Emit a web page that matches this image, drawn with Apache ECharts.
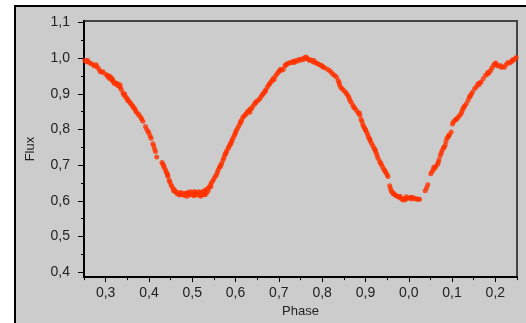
<!DOCTYPE html>
<html>
<head>
<meta charset="utf-8">
<script src="https://cdn.jsdelivr.net/npm/echarts@6/dist/echarts.min.js"></script>
<style>
  html, body { margin: 0; padding: 0; background: #fff; }
  #chart { width: 526px; height: 323px; }
</style>
</head>
<body>
<div id="chart"></div>
<script>
// phase / flux pairs (phase > 1 is labelled phase - 1)
const phase = [
  0.252, 0.256, 0.258, 0.262, 0.270, 0.274, 0.278, 0.280, 0.287, 0.291, 0.294, 0.300, 0.304, 0.306, 0.308,
  0.310, 0.313, 0.315, 0.318, 0.322, 0.325, 0.327, 0.330, 0.333, 0.336, 0.340, 0.342, 0.345, 0.348, 0.350,
  0.353, 0.356, 0.358, 0.363, 0.367, 0.369, 0.371, 0.377, 0.381, 0.383, 0.386, 0.395, 0.398, 0.400, 0.403,
  0.409, 0.411, 0.413, 0.415, 0.418, 0.430, 0.432, 0.435, 0.438, 0.440, 0.443, 0.444, 0.447, 0.448, 0.451,
  0.453, 0.456, 0.459, 0.461, 0.463, 0.466, 0.469, 0.471, 0.474, 0.476, 0.478, 0.480, 0.483, 0.485, 0.487,
  0.490, 0.492, 0.494, 0.496, 0.498, 0.500, 0.502, 0.504, 0.507, 0.509, 0.511, 0.513, 0.515, 0.517, 0.519,
  0.521, 0.523, 0.525, 0.527, 0.529, 0.531, 0.533, 0.535, 0.537, 0.539, 0.541, 0.544, 0.547, 0.550, 0.553,
  0.556, 0.558, 0.560, 0.563, 0.566, 0.568, 0.571, 0.573, 0.575, 0.578, 0.580, 0.583, 0.585, 0.587, 0.590,
  0.592, 0.594, 0.597, 0.600, 0.602, 0.605, 0.608, 0.611, 0.614, 0.617, 0.620, 0.623, 0.625, 0.628, 0.631,
  0.634, 0.637, 0.640, 0.644, 0.648, 0.652, 0.656, 0.659, 0.662, 0.664, 0.667, 0.670, 0.674, 0.677, 0.679,
  0.682, 0.685, 0.687, 0.692, 0.696, 0.699, 0.702, 0.706, 0.710, 0.714, 0.718, 0.721, 0.725, 0.729, 0.733,
  0.737, 0.741, 0.744, 0.748, 0.752, 0.756, 0.760, 0.763, 0.766, 0.769, 0.771, 0.775, 0.779, 0.783, 0.787,
  0.790, 0.794, 0.798, 0.802, 0.806, 0.812, 0.817, 0.821, 0.825, 0.829, 0.833, 0.837, 0.840, 0.843, 0.846,
  0.850, 0.854, 0.857, 0.860, 0.864, 0.867, 0.871, 0.875, 0.879, 0.883, 0.887, 0.890, 0.892, 0.894, 0.896,
  0.898, 0.901, 0.904, 0.906, 0.908, 0.911, 0.914, 0.917, 0.920, 0.923, 0.925, 0.927, 0.929, 0.933, 0.937,
  0.940, 0.943, 0.947, 0.950, 0.952, 0.956, 0.958, 0.960, 0.963, 0.966, 0.969, 0.971, 0.975, 0.978, 0.982,
  0.985, 0.987, 0.990, 0.994, 0.997, 1.000, 1.004, 1.007, 1.011, 1.015, 1.019, 1.022, 1.025, 1.038, 1.041,
  1.044, 1.051, 1.054, 1.057, 1.060, 1.063, 1.067, 1.070, 1.073, 1.075, 1.077, 1.080, 1.084, 1.086, 1.088,
  1.091, 1.094, 1.098, 1.101, 1.103, 1.107, 1.111, 1.114, 1.118, 1.121, 1.123, 1.125, 1.129, 1.133, 1.137,
  1.140, 1.144, 1.147, 1.152, 1.156, 1.160, 1.164, 1.167, 1.172, 1.177, 1.181, 1.185, 1.189, 1.192, 1.196,
  1.199, 1.203, 1.207, 1.211, 1.216, 1.221, 1.225, 1.229, 1.233, 1.237, 1.241, 1.245, 1.248,
  0.266, 0.284, 0.311, 0.316, 0.320, 0.328, 0.334, 0.344, 0.351, 0.361, 0.365, 0.375, 0.392, 0.405, 0.434,
  0.442, 0.457, 0.472, 0.488, 0.505, 0.518, 0.530, 0.543, 0.565, 0.577, 0.589, 0.599, 0.612, 0.633, 0.646,
  0.669, 0.689, 0.704, 0.716, 0.735, 0.758, 0.781, 0.800, 0.839, 0.862, 0.873, 0.886, 0.900, 0.910, 0.922,
  0.935, 0.945, 0.964, 0.980, 0.992, 1.009, 1.058, 1.068, 1.082, 1.092, 1.109, 1.127, 1.142, 1.162, 1.183,
  1.201, 1.214, 1.239
];
const flux = [
  0.993, 0.990, 0.994, 0.988, 0.982, 0.978, 0.981, 0.976, 0.963, 0.960, 0.962, 0.955, 0.951, 0.946, 0.950,
  0.942, 0.944, 0.938, 0.934, 0.931, 0.927, 0.929, 0.922, 0.925, 0.912, 0.902, 0.897, 0.893, 0.889, 0.885,
  0.880, 0.876, 0.872, 0.864, 0.858, 0.853, 0.848, 0.840, 0.834, 0.829, 0.823, 0.800, 0.794, 0.789, 0.781,
  0.760, 0.754, 0.745, 0.738, 0.723, 0.707, 0.703, 0.694, 0.687, 0.681, 0.673, 0.668, 0.657, 0.653, 0.645,
  0.640, 0.634, 0.630, 0.626, 0.623, 0.619, 0.621, 0.616, 0.618, 0.622, 0.617, 0.620, 0.615, 0.621, 0.618,
  0.624, 0.620, 0.616, 0.625, 0.621, 0.617, 0.622, 0.614, 0.619, 0.623, 0.616, 0.620, 0.625, 0.618, 0.613,
  0.621, 0.616, 0.627, 0.619, 0.624, 0.630, 0.622, 0.634, 0.628, 0.637, 0.643, 0.650, 0.655, 0.662, 0.668,
  0.673, 0.680, 0.687, 0.694, 0.700, 0.705, 0.714, 0.720, 0.728, 0.735, 0.740, 0.747, 0.752, 0.757, 0.764,
  0.770, 0.775, 0.783, 0.792, 0.798, 0.804, 0.811, 0.818, 0.826, 0.834, 0.838, 0.842, 0.845, 0.850, 0.853,
  0.857, 0.859, 0.865, 0.872, 0.878, 0.881, 0.886, 0.892, 0.897, 0.901, 0.905, 0.911, 0.920, 0.925, 0.929,
  0.934, 0.938, 0.943, 0.950, 0.956, 0.961, 0.965, 0.966, 0.968, 0.978, 0.983, 0.985, 0.987, 0.988, 0.991,
  0.990, 0.994, 0.992, 0.997, 0.995, 0.999, 1.002, 1.003, 0.999, 0.996, 0.993, 0.995, 0.990, 0.988, 0.986,
  0.984, 0.981, 0.979, 0.975, 0.973, 0.969, 0.965, 0.960, 0.955, 0.951, 0.947, 0.937, 0.925, 0.918, 0.914,
  0.909, 0.904, 0.899, 0.894, 0.882, 0.876, 0.868, 0.860, 0.854, 0.847, 0.840, 0.828, 0.822, 0.813, 0.808,
  0.803, 0.796, 0.789, 0.782, 0.776, 0.768, 0.761, 0.754, 0.747, 0.740, 0.733, 0.726, 0.719, 0.710, 0.701,
  0.694, 0.687, 0.679, 0.673, 0.668, 0.642, 0.634, 0.627, 0.623, 0.619, 0.616, 0.614, 0.612, 0.610, 0.607,
  0.604, 0.602, 0.606, 0.611, 0.608, 0.607, 0.610, 0.605, 0.608, 0.606, 0.605, 0.604, 0.604, 0.628, 0.636,
  0.645, 0.676, 0.682, 0.688, 0.692, 0.697, 0.703, 0.715, 0.727, 0.734, 0.741, 0.748, 0.756, 0.766, 0.775,
  0.779, 0.785, 0.793, 0.815, 0.821, 0.826, 0.830, 0.834, 0.840, 0.845, 0.852, 0.858, 0.866, 0.872, 0.882,
  0.890, 0.898, 0.904, 0.914, 0.920, 0.928, 0.930, 0.933, 0.942, 0.951, 0.955, 0.958, 0.965, 0.972, 0.980,
  0.984, 0.980, 0.978, 0.979, 0.976, 0.974, 0.982, 0.988, 0.986, 0.990, 0.993, 0.998, 1.002,
  0.985, 0.970, 0.947, 0.941, 0.929, 0.924, 0.918, 0.899, 0.882, 0.868, 0.861, 0.844, 0.808, 0.775, 0.698,
  0.676, 0.628, 0.623, 0.613, 0.626, 0.623, 0.617, 0.640, 0.696, 0.731, 0.760, 0.787, 0.822, 0.848, 0.874,
  0.908, 0.940, 0.969, 0.981, 0.988, 0.997, 0.993, 0.978, 0.932, 0.889, 0.862, 0.846, 0.800, 0.773, 0.743,
  0.706, 0.684, 0.620, 0.613, 0.603, 0.609, 0.694, 0.708, 0.751, 0.782, 0.828, 0.862, 0.894, 0.925, 0.960,
  0.986, 0.974, 0.995
];

const xMajor = [0.3, 0.4, 0.5, 0.6, 0.7, 0.8, 0.9, 1.0, 1.1, 1.2];
const xMinor = [0.25, 0.35, 0.45, 0.55, 0.65, 0.75, 0.85, 0.95, 1.05, 1.15, 1.25];
const yMajor = [0.4, 0.5, 0.6, 0.7, 0.8, 0.9, 1.0, 1.1];
const yMinor = [0.45, 0.55, 0.65, 0.75, 0.85, 0.95, 1.05];

const chart = echarts.init(document.getElementById('chart'));

const labelFont = { fontFamily: 'Liberation Sans, Arial, sans-serif', fontSize: 14, color: '#222' };

const fmt = v => {
  let p = v >= 0.999 ? v - 1 : v;
  return p.toFixed(1).replace('.', ',');
};

const option = {
  backgroundColor: '#cccccc',
  animation: false,
  graphic: [
    { type: 'rect', shape: { x: 0, y: 0, width: 526, height: 5 }, style: { fill: '#fff' } },
    { type: 'rect', shape: { x: 0, y: 0, width: 14, height: 323 }, style: { fill: '#fff' } },
    { type: 'rect', shape: { x: 14, y: 5, width: 512, height: 2 }, style: { fill: '#000' } },
    { type: 'rect', shape: { x: 14, y: 5, width: 2, height: 318 }, style: { fill: '#000' } }
  ],
  grid: {
    left: 84, top: 21, right: 9, bottom: 45,
    show: true, borderColor: '#454545', borderWidth: 2, backgroundColor: 'transparent'
  },
  xAxis: [
    {
      type: 'value', min: 0.25, max: 1.25,
      name: 'Phase', nameLocation: 'middle', nameGap: 26,
      nameTextStyle: { fontFamily: 'Liberation Sans, Arial, sans-serif', fontSize: 13, color: '#222' },
      axisLine: { show: true, onZero: false, lineStyle: { color: '#000', width: 2 } },
      axisTick: { show: true, length: 5, customValues: xMajor, lineStyle: { color: '#000', width: 1 } },
      axisLabel: { ...labelFont, margin: 9, customValues: xMajor, formatter: fmt },
      splitLine: { show: false }
    },
    {
      type: 'value', min: 0.25, max: 1.25, position: 'bottom',
      axisLine: { show: false },
      axisTick: { show: true, length: 3, customValues: xMinor, lineStyle: { color: '#000', width: 1 } },
      axisLabel: { show: false },
      splitLine: { show: false }
    }
  ],
  yAxis: [
    {
      type: 'value', min: 0.386, max: 1.104,
      name: 'Flux', nameLocation: 'middle', nameGap: 47, nameRotate: 90,
      nameTextStyle: { fontFamily: 'Liberation Sans, Arial, sans-serif', fontSize: 13, color: '#222' },
      axisLine: { show: true, onZero: false, lineStyle: { color: '#000', width: 2 } },
      axisTick: { show: true, length: 6, customValues: yMajor, lineStyle: { color: '#000', width: 1 } },
      axisLabel: { ...labelFont, margin: 14, customValues: yMajor, formatter: v => v.toFixed(1).replace('.', ',') },
      splitLine: { show: false }
    },
    {
      type: 'value', min: 0.386, max: 1.104, position: 'left',
      axisLine: { show: false },
      axisTick: { show: true, length: 3, customValues: yMinor, lineStyle: { color: '#000', width: 1 } },
      axisLabel: { show: false },
      splitLine: { show: false }
    }
  ],
  series: [
    {
      type: 'scatter',
      xAxisIndex: 0, yAxisIndex: 0,
      symbol: 'circle', symbolSize: 5,
      itemStyle: { color: '#ff3300' },
      data: phase.map((p, i) => [p, flux[i]])
    }
  ]
};

chart.setOption(option);
</script>
</body>
</html>
